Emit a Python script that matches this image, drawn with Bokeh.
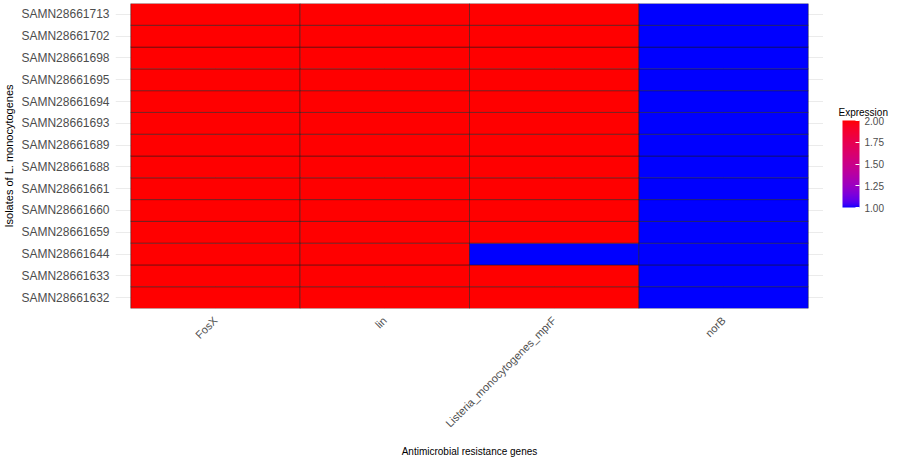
import numpy as np
from bokeh.plotting import figure
from bokeh.layouts import row
from bokeh.models import (FactorRange, ColumnDataSource, LinearColorMapper, ColorBar,
                          FixedTicker, PrintfTickFormatter, Label)
from bokeh.embed import file_html
from bokeh.resources import INLINE

# ---- data ----
isolates = ["SAMN28661632", "SAMN28661633", "SAMN28661644", "SAMN28661659",
            "SAMN28661660", "SAMN28661661", "SAMN28661688", "SAMN28661689",
            "SAMN28661693", "SAMN28661694", "SAMN28661695", "SAMN28661698",
            "SAMN28661702", "SAMN28661713"]
genes = ["FosX", "lin", "Listeria_monocytogenes_mprF", "norB"]
fosx = [2, 2, 2, 2, 2, 2, 2, 2, 2, 2, 2, 2, 2, 2]
lin = [2, 2, 2, 2, 2, 2, 2, 2, 2, 2, 2, 2, 2, 2]
mprf = [2, 2, 1, 2, 2, 2, 2, 2, 2, 2, 2, 2, 2, 2]
norb = [1, 1, 1, 1, 1, 1, 1, 1, 1, 1, 1, 1, 1, 1]
colorbar_ticks = [1.0, 1.25, 1.5, 1.75, 2.0]

values = {"FosX": fosx, "lin": lin, "Listeria_monocytogenes_mprF": mprf, "norB": norb}
xs, ys, vs = [], [], []
for g in genes:
    for iso, v in zip(isolates, values[g]):
        xs.append(g)
        ys.append(iso)
        vs.append(v)
source = ColumnDataSource(dict(gene=xs, isolate=ys, value=vs))

# ---- blue -> red gradient interpolated in CIE Lab (like ggplot) ----
def srgb_to_lab(rgb):
    c = np.array(rgb, dtype=float) / 255.0
    c = np.where(c <= 0.04045, c / 12.92, ((c + 0.055) / 1.055) ** 2.4)
    M = np.array([[0.4124, 0.3576, 0.1805], [0.2126, 0.7152, 0.0722], [0.0193, 0.1192, 0.9505]])
    xyz = M @ c
    wp = np.array([0.95047, 1.0, 1.08883])
    t = xyz / wp
    d = 6 / 29
    f = np.where(t > d ** 3, np.cbrt(t), t / (3 * d * d) + 4 / 29)
    return np.array([116 * f[1] - 16, 500 * (f[0] - f[1]), 200 * (f[1] - f[2])])

def lab_to_hex(lab):
    L, a, b = lab
    fy = (L + 16) / 116
    fx = fy + a / 500
    fz = fy - b / 200
    d = 6 / 29
    f = np.array([fx, fy, fz])
    t = np.where(f > d, f ** 3, 3 * d * d * (f - 4 / 29))
    wp = np.array([0.95047, 1.0, 1.08883])
    xyz = t * wp
    Minv = np.array([[3.2406, -1.5372, -0.4986], [-0.9689, 1.8758, 0.0415], [0.0557, -0.2040, 1.0570]])
    c = Minv @ xyz
    c = np.clip(c, 0, 1)
    c = np.where(c <= 0.0031308, 12.92 * c, 1.055 * c ** (1 / 2.4) - 0.055)
    c = np.clip(np.round(c * 255), 0, 255).astype(int)
    return "#%02x%02x%02x" % tuple(c)

lo = srgb_to_lab((0, 0, 255))
hi = srgb_to_lab((255, 0, 0))
palette = [lab_to_hex(lo + (hi - lo) * k / 255) for k in range(256)]
palette[0] = "#0000ff"
palette[-1] = "#ff0000"
mapper = LinearColorMapper(palette=palette, low=1, high=2)

# ---- main heatmap ----
p = figure(width=823, height=459, output_backend="svg", toolbar_location=None,
           x_range=FactorRange(*genes, range_padding=0.09, range_padding_units="absolute"),
           y_range=FactorRange(*isolates, range_padding=0.0, range_padding_units="absolute"),
           min_border_top=3, min_border_left=110, min_border_bottom=148, min_border_right=0)
p.outline_line_color = None
p.background_fill_color = "white"
p.border_fill_color = "white"

p.rect(x="gene", y="isolate", width=1, height=1, source=source,
       fill_color={"field": "value", "transform": mapper},
       line_color="#1a1a1a", line_alpha=0.8, line_width=0.6)

p.xgrid.grid_line_color = "#EBEBEB"
p.ygrid.grid_line_color = "#EBEBEB"

for ax in (p.xaxis[0], p.yaxis[0]):
    ax.axis_line_color = None
    ax.major_tick_line_color = None
    ax.minor_tick_line_color = None
    ax.major_tick_out = 0
    ax.major_tick_in = 0
    ax.major_label_text_color = "#4D4D4D"
    ax.major_label_text_font = "Liberation Sans"
    ax.axis_label_text_font = "Liberation Sans"
    ax.axis_label_text_font_style = "normal"
    ax.axis_label_text_color = "black"

p.yaxis.axis_label = "Isolates of L. monocytogenes"
p.yaxis.axis_label_text_font_size = "11px"
p.yaxis.major_label_text_font_size = "12px"
p.yaxis.major_label_standoff = 6
p.yaxis.axis_label_standoff = 3

p.xaxis.axis_label = "Antimicrobial resistance genes"
p.xaxis.axis_label_text_font_size = "10px"
p.xaxis.major_label_text_font_size = "11px"
p.xaxis.major_label_orientation = np.pi / 4
p.xaxis.major_label_standoff = 10
p.xaxis.axis_label_standoff = 9

# ---- legend panel (its frame is aligned with the heatmap frame by the row) ----
leg = figure(width=76, height=459, output_backend="svg", toolbar_location=None,
             x_axis_type=None, y_axis_type=None, min_border=0)
leg.outline_line_color = None
leg.xgrid.visible = False
leg.ygrid.visible = False
leg.background_fill_color = "white"
leg.border_fill_color = "white"

cb = ColorBar(color_mapper=mapper, width=17, height=87, location=(19, 101),
              ticker=FixedTicker(ticks=colorbar_ticks),
              formatter=PrintfTickFormatter(format="%.2f"),
              major_label_text_font_size="10px", major_label_text_font="Liberation Sans",
              major_label_text_color="#4D4D4D", label_standoff=5,
              major_tick_line_color="white", major_tick_in=4, major_tick_out=0,
              bar_line_color=None, padding=0, margin=0,
              background_fill_color=None, border_line_color=None)
leg.add_layout(cb, "center")

cb_title = Label(x=15, y=196, x_units="screen", y_units="screen", text="Expression",
                 text_font="Liberation Sans", text_font_size="10px", text_color="black",
                 text_baseline="alphabetic", text_align="left")
leg.add_layout(cb_title)

layout = row(p, leg, spacing=0)
open("out.html", "w").write(file_html(layout, INLINE))
